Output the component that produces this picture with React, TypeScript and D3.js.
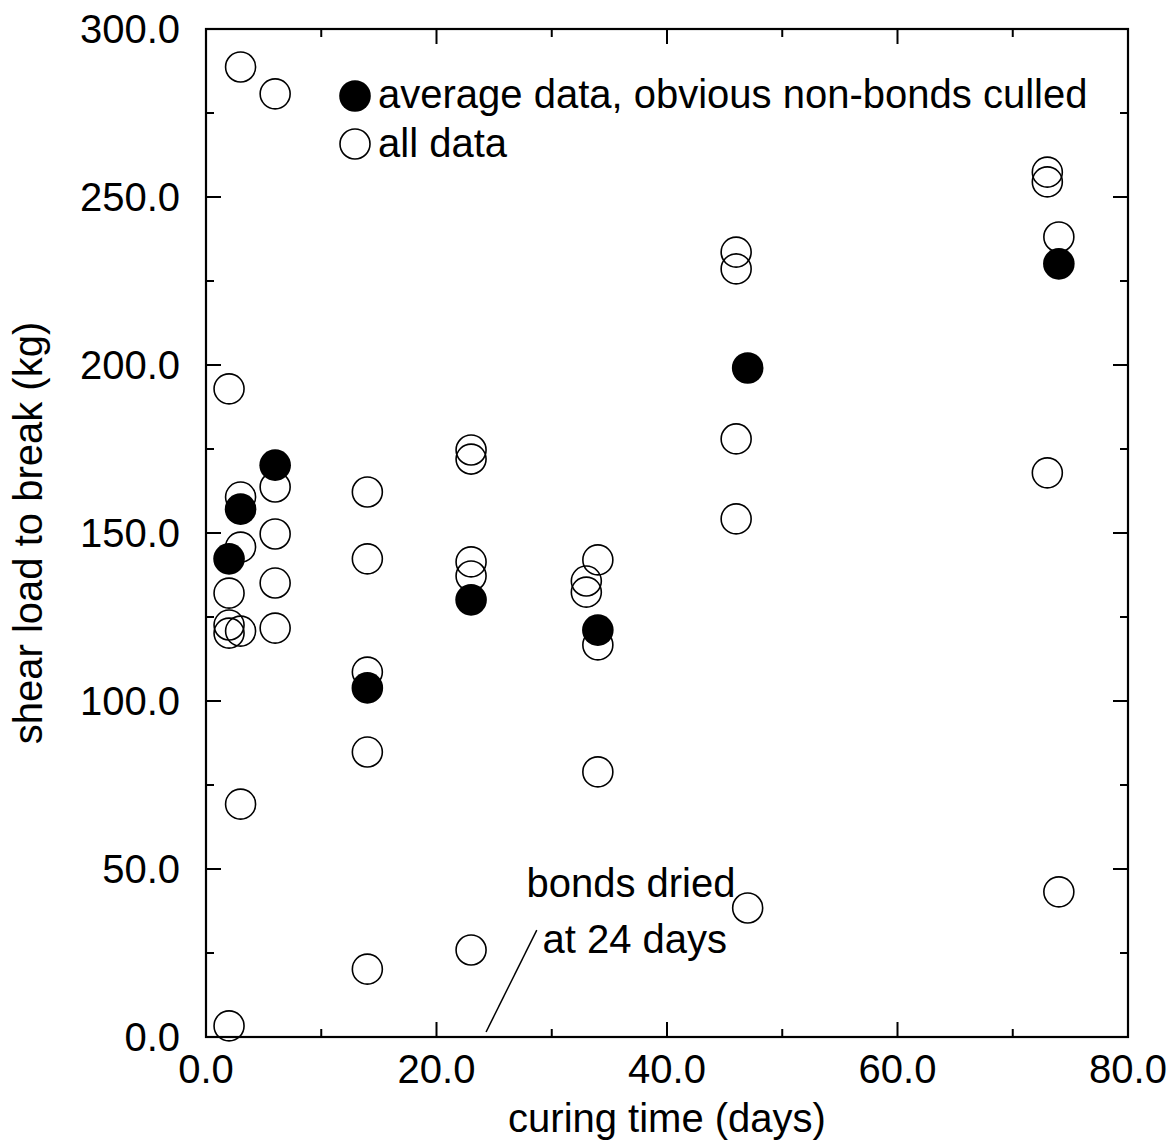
import React from 'react';
import * as d3 from 'd3';

// constants
const width = 1171;
const height = 1144;
const margin = { top: 29, right: 43, bottom: 107, left: 206 };
const font = 'Liberation Sans, Arial, Helvetica, sans-serif';
const fontSize = 40;

// data: curing time (days) and shear load (kg)
const averageDays = [2, 3, 6, 14, 23, 34, 47, 74];
const averageLoad = [142.3, 157.1, 170.2, 103.9, 130.1, 121.1, 199.1, 230.1];

const allDays = [
  2, 2, 2, 2, 2,
  3, 3, 3, 3, 3,
  6, 6, 6, 6, 6,
  14, 14, 14, 14, 14,
  23, 23, 23, 23, 23,
  33, 33,
  34, 34, 34,
  46, 46, 46, 46,
  47,
  73, 73, 73,
  74, 74,
];
const allLoad = [
  192.9, 132.1, 122.6, 120.2, 3.3,
  288.7, 160.7, 145.8, 120.8, 69.3,
  280.7, 163.7, 149.7, 135.1, 121.7,
  162.2, 142.3, 108.6, 84.8, 20.2,
  174.7, 172.0, 141.4, 137.2, 25.9,
  135.7, 132.4,
  142.0, 116.7, 78.9,
  233.6, 228.6, 178.0, 154.2,
  38.4,
  257.4, 254.5, 167.9,
  238.1, 43.2,
];

const xMajor = [0, 20, 40, 60, 80];
const xMinor = [10, 30, 50, 70];
const yMajor = [0, 50, 100, 150, 200, 250, 300];
const yMinor = [25, 75, 125, 175, 225, 275];

const legendLabels = ['average data, obvious non-bonds culled', 'all data'];

// annotation, in data units
const noteLine = [[24.3, 1.5], [28.7, 31.8]];
const noteLines = [
  { text: 'bonds dried', x: 27.8, y: 41.7 },
  { text: 'at 24 days', x: 29.2, y: 25.0 },
];

const r = 15;

const App = () => {
  const x = d3.scaleLinear().domain([0, 80]).range([margin.left, width - margin.right]);
  const y = d3.scaleLinear().domain([0, 300]).range([height - margin.bottom, margin.top]);
  const [x0, x1] = x.range();
  const [y0, y1] = y.range();

  const majorLen = 15;
  const minorLen = 8;

  return (
    <svg width={width} height={height} style={{ position: 'absolute', left: 0, top: 0, background: '#fff' }}
      fontFamily={font} fontSize={fontSize}>
      {/* ticks on all four sides, pointing in */}
      <g stroke="#000" strokeWidth={2}>
        {xMajor.concat(xMinor).map((d) => {
          const len = xMajor.includes(d) ? majorLen : minorLen;
          return (
            <g key={'xt' + d}>
              <line x1={x(d)} x2={x(d)} y1={y0} y2={y0 - len} />
              <line x1={x(d)} x2={x(d)} y1={y1} y2={y1 + len} />
            </g>
          );
        })}
        {yMajor.concat(yMinor).map((d) => {
          const len = yMajor.includes(d) ? majorLen : minorLen;
          return (
            <g key={'yt' + d}>
              <line x1={x0} x2={x0 + len} y1={y(d)} y2={y(d)} />
              <line x1={x1} x2={x1 - len} y1={y(d)} y2={y(d)} />
            </g>
          );
        })}
      </g>
      <rect x={x0} y={y1} width={x1 - x0} height={y0 - y1} fill="none" stroke="#000" strokeWidth={2.2} />

      {/* tick labels */}
      {xMajor.map((d) => (
        <text key={'xl' + d} x={x(d)} y={y0 + 46} textAnchor="middle">{d.toFixed(1)}</text>
      ))}
      {yMajor.map((d) => (
        <text key={'yl' + d} x={x0 - 26} y={y(d) + 14} textAnchor="end">{d.toFixed(1)}</text>
      ))}

      {/* axis titles */}
      <text x={(x0 + x1) / 2} y={1132} textAnchor="middle">curing time (days)</text>
      <text transform={`translate(42,${(y0 + y1) / 2}) rotate(-90)`} textAnchor="middle">shear load to break (kg)</text>

      {/* all data */}
      <g fill="none" stroke="#000" strokeWidth={1.6}>
        {allDays.map((d, i) => (
          <circle key={'a' + i} cx={x(d)} cy={y(allLoad[i])} r={r} />
        ))}
      </g>
      {/* averages */}
      <g fill="#000">
        {averageDays.map((d, i) => (
          <circle key={'m' + i} cx={x(d)} cy={y(averageLoad[i])} r={r + 0.8} />
        ))}
      </g>

      {/* legend */}
      <circle cx={355} cy={96} r={r + 0.8} fill="#000" />
      <text x={378} y={108}>{legendLabels[0]}</text>
      <circle cx={355} cy={144} r={r} fill="none" stroke="#000" strokeWidth={1.6} />
      <text x={378} y={157}>{legendLabels[1]}</text>

      {/* annotation */}
      <line x1={x(noteLine[0][0])} y1={y(noteLine[0][1])} x2={x(noteLine[1][0])} y2={y(noteLine[1][1])}
        stroke="#000" strokeWidth={1.5} />
      {noteLines.map((n) => (
        <text key={n.text} x={x(n.x)} y={y(n.y)}>{n.text}</text>
      ))}
    </svg>
  );
};

export default App;
